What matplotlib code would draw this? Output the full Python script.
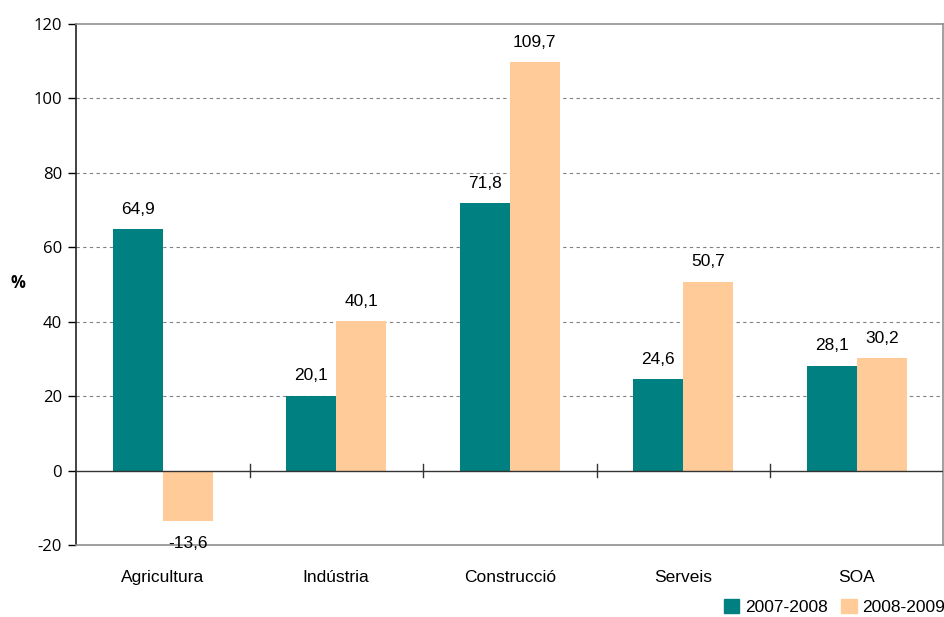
import matplotlib
matplotlib.use("Agg")
import matplotlib.pyplot as plt
from matplotlib.patches import Patch
from matplotlib import font_manager as fm
import numpy as np

categories = ["Agricultura", "Indústria", "Construcció", "Serveis", "SOA"]
series_names = ["2007-2008", "2008-2009"]
v0708 = [64.9, 20.1, 71.8, 24.6, 28.1]
v0809 = [-13.6, 40.1, 109.7, 50.7, 30.2]
yticks = [-20, 0, 20, 40, 60, 80, 100, 120]

names = {f.name for f in fm.fontManager.ttflist}
narrow = "Liberation Sans Narrow" if "Liberation Sans Narrow" in names else "Liberation Sans"
tickfont = "Open Sans" if "Open Sans" in names else "DejaVu Sans"

teal = "#008080"
peach = "#FFCC99"

fig = plt.figure(figsize=(9.45, 6.17), dpi=100)
ax = fig.add_axes([76/945, 72/617, 867.5/945, 521/617])

x = np.arange(len(categories))
w = 0.288
b1 = ax.bar(x - w/2, v0708, w, color=teal, zorder=3)
b2 = ax.bar(x + w/2, v0809, w, color=peach, zorder=3)

ax.set_xlim(-0.5, len(categories) - 0.5)
ax.set_ylim(-20, 120)
ax.set_yticks(yticks)
ax.set_yticklabels([str(t) for t in yticks], fontfamily=tickfont, fontsize=12)
for t in [20, 40, 60, 80, 100]:
    ax.axhline(t, color="#808080", lw=0.8, ls=(0, (3, 3)), zorder=1)
ax.axhline(0, color="#333333", lw=1.0, zorder=4)
# category separators on zero line
for b in np.arange(0.5, len(categories) - 0.5, 1):
    ax.plot([b, b], [-1.7, 1.7], color="#333333", lw=1.0, zorder=4, clip_on=False)

ax.set_xticks(x)
ax.set_xticklabels(categories, fontfamily=narrow, fontsize=12.5)
ax.tick_params(axis="x", length=0, pad=18)
ax.tick_params(axis="y", length=6, width=1, direction="out", pad=4)

for s in ["top", "right", "bottom"]:
    ax.spines[s].set_color("#909090")
    ax.spines[s].set_linewidth(1.2)
ax.spines["left"].set_color("#222222")
ax.spines["left"].set_linewidth(1.2)

def fmt(v):
    return f"{v:.1f}".replace(".", ",")

for bars, vals in [(b1, v0708), (b2, v0809)]:
    for r, v in zip(bars, vals):
        cx = r.get_x() + r.get_width()/2
        if v >= 0:
            ax.annotate(fmt(v), (cx, v), xytext=(0, 9), textcoords="offset points",
                        ha="center", va="bottom", fontfamily=narrow, fontsize=12.5, zorder=5)
        else:
            ax.annotate(fmt(v), (cx, v), xytext=(0, -11), textcoords="offset points",
                        ha="center", va="top", fontfamily=narrow, fontsize=12.5, zorder=5)

fig.text(18/945, 1 - 283/617, "%", fontfamily=tickfont, fontweight="bold", fontsize=12,
         ha="center", va="center")

handles = [Patch(color=teal, label=series_names[0]), Patch(color=peach, label=series_names[1])]
fig.legend(handles=handles, loc="center right", bbox_to_anchor=(1.0, 1 - 607/617), ncol=2,
           frameon=False, prop={"family": narrow, "size": 12.5}, handlelength=0.9,
           handleheight=0.9, handletextpad=0.3, columnspacing=0.8, borderaxespad=0.0,
           borderpad=0.0)

fig.savefig("out.png", dpi=100)
